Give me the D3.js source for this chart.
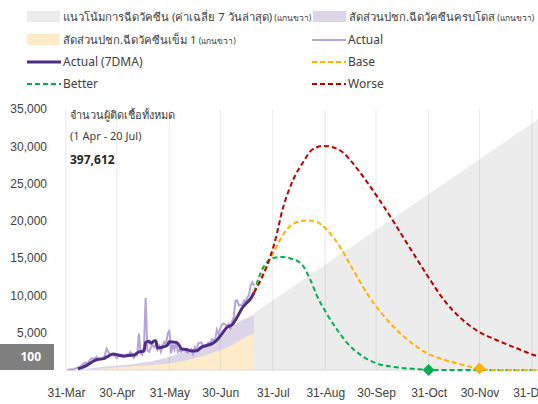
<!doctype html>
<html>
<head>
<meta charset="utf-8">
<script src="https://d3js.org/d3.v7.min.js"></script>
<style>
    body { margin: 0; background: #fff; }
    svg { display: block; font-family: "Segoe UI", "Noto Sans", "Open Sans", sans-serif; }
    text { fill: #404040; }
    .axis .domain, .axis line { display: none; }
</style>
</head>
<body>
<div id="chart"></div>
<script>

    // daily cases from 1 Apr (one value per day)
    var dailyStart = "2021-04-01";
    var actualDaily = [
        26, 84, 96, 84, 194, 250, 334, 405, 559, 789, 967, 985, 965, 1335, 1543, 1582, 1547, 1767, 1390, 1443,
        1458, 1470, 2070, 2839, 2438, 2048, 2179, 2012, 1871, 1583,
        1891, 1940, 2041, 1763, 1911, 2112, 2044, 2419, 2101, 1630, 1919, 1983, 4887, 2256, 2052, 3095, 9635, 2632,
        2438, 2978, 3394, 3052, 3382, 2713, 3226, 2455, 3323, 3759, 3440, 4800, 5400,
        2230, 3440, 2742, 3886, 2419, 2671, 2419, 2662, 2680, 2419, 2290, 2644, 2804, 2129, 3049, 2624, 3564, 3667,
        3682, 3129, 3175, 3174, 3644, 3644, 4108, 3995, 3995, 5406, 4786, 5533,
        6087, 6230, 6087, 5916, 6166, 5420, 6519, 7058, 9276, 9326, 8656, 8685, 8685, 9317, 9186, 9692, 10082, 11397,
        11784, 11305
    ];

    // 7 day average
    var actual7dma = [
        ["2021-04-07", 153], ["2021-04-10", 374], ["2021-04-13", 715], ["2021-04-16", 1167], ["2021-04-19", 1447],
        ["2021-04-22", 1522], ["2021-04-25", 1873], ["2021-04-28", 2151], ["2021-05-01", 2003], ["2021-05-04", 1872],
        ["2021-05-07", 1957], ["2021-05-10", 1997], ["2021-05-13", 2426], ["2021-05-16", 2546], ["2021-05-17", 3690],
        ["2021-05-19", 3856], ["2021-05-20", 3584], ["2021-05-22", 3889], ["2021-05-23", 3930], ["2021-05-24", 2941],
        ["2021-05-26", 3029], ["2021-05-28", 3130], ["2021-05-30", 3388], ["2021-05-31", 3772], ["2021-06-02", 3770],
        ["2021-06-04", 3705], ["2021-06-06", 3255], ["2021-06-07", 2830], ["2021-06-10", 2737], ["2021-06-13", 2560],
        ["2021-06-16", 2566], ["2021-06-19", 3074], ["2021-06-22", 3288], ["2021-06-25", 3508], ["2021-06-28", 3995],
        ["2021-07-01", 4844], ["2021-07-04", 5721], ["2021-07-07", 6061], ["2021-07-10", 7097], ["2021-07-13", 8315],
        ["2021-07-16", 9078], ["2021-07-18", 9578], ["2021-07-20", 10395]
    ];

    // scenarios
    var better = [
        ["2021-07-20", 10395], ["2021-07-24", 13100], ["2021-07-27", 14300], ["2021-08-01", 15050], ["2021-08-06", 15150],
        ["2021-08-10", 15000], ["2021-08-17", 14200], ["2021-08-22", 12200], ["2021-08-26", 10000], ["2021-09-01", 7500],
        ["2021-09-07", 5400], ["2021-09-13", 3600], ["2021-09-21", 2000], ["2021-09-30", 900], ["2021-10-12", 360],
        ["2021-10-26", 90], ["2021-10-31", 0], ["2022-01-05", 0]
    ];
    var base = [
        ["2021-07-20", 10395], ["2021-07-26", 13300], ["2021-08-01", 16000], ["2021-08-06", 18100], ["2021-08-12", 19600],
        ["2021-08-20", 20050], ["2021-08-24", 20000], ["2021-09-01", 18800], ["2021-09-09", 16400], ["2021-09-16", 13600],
        ["2021-09-26", 9800], ["2021-10-04", 7400], ["2021-10-12", 5400], ["2021-10-20", 3800], ["2021-10-30", 2250],
        ["2021-11-11", 1250], ["2021-11-23", 540], ["2021-11-30", 120], ["2021-12-10", 0], ["2022-01-05", 0]
    ];
    var worse = [
        ["2021-07-20", 10395], ["2021-07-27", 13640], ["2021-08-01", 16990], ["2021-08-06", 21700], ["2021-08-12", 25480],
        ["2021-08-18", 27900], ["2021-08-23", 29500], ["2021-08-30", 30050], ["2021-09-04", 29900], ["2021-09-11", 29060],
        ["2021-09-16", 27800], ["2021-09-25", 25100], ["2021-10-02", 22800], ["2021-10-10", 20000], ["2021-10-16", 17800],
        ["2021-10-24", 14900], ["2021-10-31", 12400], ["2021-11-09", 9390], ["2021-11-19", 6930], ["2021-11-28", 5360],
        ["2021-12-10", 4020], ["2021-12-22", 2910], ["2022-01-01", 2010], ["2022-01-05", 1750]
    ];
    // points where the scenario reaches ~zero
    var endMarks = [["2021-10-31", 0, "better"], ["2021-11-30", 200, "base"]];

    // vaccination, % of population (right axis, not drawn)
    var doseFull = [
        ["2021-04-01", 0], ["2021-04-15", 0.7], ["2021-04-25", 1.4], ["2021-05-10", 2.3], ["2021-05-25", 4.0],
        ["2021-06-05", 6.0], ["2021-06-20", 9.5], ["2021-07-01", 13.5], ["2021-07-10", 18.0], ["2021-07-19", 20.8],
        ["2021-07-20", 21.0]
    ];
    var doseFirst = [
        ["2021-04-01", 0], ["2021-04-20", 0.5], ["2021-05-10", 1.5], ["2021-05-31", 2.5], ["2021-06-15", 4.5],
        ["2021-06-25", 6.4], ["2021-07-05", 8.9], ["2021-07-12", 11.5], ["2021-07-19", 13.8], ["2021-07-20", 14.0]
    ];
    var vaccTrend = [["2021-07-20", 21.8], ["2022-01-05", 96.7]];

    var xTicks = ["2021-03-31", "2021-04-30", "2021-05-31", "2021-06-30", "2021-07-31", "2021-08-31",
        "2021-09-30", "2021-10-31", "2021-11-30", "2021-12-31"];
    var yTicks = [5000, 10000, 15000, 20000, 25000, 30000, 35000];

    var parse = d3.timeParse("%Y-%m-%d");

    var margin = {top: 109, right: 6, bottom: 34, left: 66},
        width = 538 - margin.left - margin.right,
        height = 404 - margin.top - margin.bottom;

    var svgRoot = d3.select("#chart")
        .append("svg")
        .attr("width", 538)
        .attr("height", 404);

    var svg = svgRoot.append("g")
        .attr("transform", "translate(" + margin.left + "," + margin.top + ")");

    var x = d3.scaleTime()
        .domain([parse("2021-03-31"), parse("2021-12-31")])
        .range([0, width]);
    var y = d3.scaleLinear().domain([0, 35000]).range([height, 0]);
    var yRight = d3.scaleLinear().domain([0, 100]).range([height, 0]);

    function pts(arr) {
        return arr.map(function(d) { return {date: parse(d[0]), v: d[1]}; });
    }

    // vaccination areas
    var vArea = d3.area()
        .x(function(d) { return x(d.date); })
        .y0(height)
        .y1(function(d) { return yRight(d.v); });

    svg.append("path").datum(pts(vaccTrend)).attr("d", vArea).attr("fill", "#ececec");
    svg.append("path").datum(pts(doseFull)).attr("d", vArea.curve(d3.curveMonotoneX)).attr("fill", "#dcd5e8");
    svg.append("path").datum(pts(doseFirst)).attr("d", vArea.curve(d3.curveMonotoneX)).attr("fill", "#fdebc9");

    // vertical grid
    svg.selectAll(".grid")
        .data(xTicks)
        .enter().append("line")
        .attr("class", "grid")
        .attr("x1", function(d) { return x(parse(d)); })
        .attr("x2", function(d) { return x(parse(d)); })
        .attr("y1", 0)
        .attr("y2", height)
        .attr("stroke", "#000")
        .attr("stroke-opacity", 0.08);

    svg.append("line")
        .attr("x1", 0).attr("x2", width + margin.right)
        .attr("y1", y(0)).attr("y2", y(0))
        .attr("stroke", "#d9d9d9");

    // axes
    svg.append("g")
        .attr("class", "axis")
        .attr("transform", "translate(0," + height + ")")
        .call(d3.axisBottom(x)
            .tickValues(xTicks.map(parse))
            .tickFormat(d3.timeFormat("%d-%b"))
            .tickSize(0)
            .tickPadding(18))
        .selectAll("text")
        .attr("font-size", 12)
        .style("fill", "#404040");

    svg.append("g")
        .attr("class", "axis")
        .call(d3.axisLeft(y)
            .tickValues(yTicks)
            .tickFormat(d3.format(","))
            .tickSize(0)
            .tickPadding(19))
        .selectAll("text")
        .attr("font-size", 12)
        .style("fill", "#404040");

    // lines
    var dailyPts = actualDaily.map(function(v, i) {
        return {date: d3.timeDay.offset(parse(dailyStart), i), v: v};
    });
    var line = d3.line()
        .x(function(d) { return x(d.date); })
        .y(function(d) { return y(d.v); });

    svg.append("path").datum(dailyPts)
        .attr("d", line)
        .attr("fill", "none")
        .attr("stroke", "#b6a3da")
        .attr("stroke-width", 2);

    svg.append("path").datum(pts(actual7dma))
        .attr("d", line.curve(d3.curveMonotoneX))
        .attr("fill", "none")
        .attr("stroke", "#4e2d87")
        .attr("stroke-width", 3);

    var scen = [[better, "#00b050"], [base, "#ffb000"], [worse, "#c00000"]];
    scen.forEach(function(s) {
        svg.append("path").datum(pts(s[0]))
            .attr("d", line.curve(d3.curveMonotoneX))
            .attr("fill", "none")
            .attr("stroke", s[1])
            .attr("stroke-width", 2)
            .attr("stroke-dasharray", "5,3");
    });

    var markColor = {better: "#00b050", base: "#ffb000"};
    svg.selectAll(".mark")
        .data(endMarks)
        .enter().append("path")
        .attr("class", "mark")
        .attr("d", "M0,-6L6,0L0,6L-6,0Z")
        .attr("transform", function(d) { return "translate(" + x(parse(d[0])) + "," + y(d[1]) + ")"; })
        .attr("fill", function(d) { return markColor[d[2]]; });

    // grey "100" label over the zero tick
    svg.append("rect")
        .attr("x", -margin.left).attr("y", height - 26)
        .attr("width", 54).attr("height", 26)
        .attr("fill", "#7f7f7f");
    svg.append("text")
        .attr("x", -25).attr("y", height - 13)
        .attr("dy", "0.35em")
        .attr("text-anchor", "end")
        .attr("font-size", 12)
        .attr("font-weight", "bold")
        .style("fill", "#fff")
        .text("100");

    // note at top left
    var note = svg.append("g").attr("transform", "translate(4,0)");
    note.append("text").attr("y", 10).attr("font-size", 11).text("จำนวนผู้ติดเชื้อทั้งหมด");
    note.append("text").attr("y", 31).attr("font-size", 11).text("(1 Apr - 20 Jul)");
    note.append("text").attr("y", 55).attr("font-size", 12).attr("font-weight", "bold")
        .style("fill", "#262626").text("397,612");

    // legend
    var legend = svgRoot.append("g").attr("font-size", 12);

    function legendItem(lx, ly, kind, color, label, small) {
        if (kind == "rect") {
            legend.append("rect").attr("x", lx).attr("y", ly - 6).attr("width", 33).attr("height", 11).attr("fill", color);
        } else {
            legend.append("line").attr("x1", lx).attr("x2", lx + 34).attr("y1", ly).attr("y2", ly)
                .attr("stroke", color)
                .attr("stroke-width", kind == "thick" ? 3 : 2)
                .attr("stroke-dasharray", kind == "dash" ? "5,3" : null);
        }
        var t = legend.append("text").attr("x", lx + 36).attr("y", ly).attr("dy", "0.35em").text(label);
        // thai labels run a bit wide in this font
        if (small) {
            t.attr("font-size", 11.3);
            t.append("tspan").attr("font-size", 8.5).text(" " + small);
        }
    }

    legendItem(27, 17, "rect", "#ececec", "แนวโน้มการฉีดวัคซีน (ค่าเฉลี่ย 7 วันล่าสุด)", "(แกนขวา)");
    legendItem(313, 17, "rect", "#dcd5e8", "สัดส่วนปชก.ฉีดวัคซีนครบโดส", "(แกนขวา)");
    legendItem(27, 40, "rect", "#fdebc9", "สัดส่วนปชก.ฉีดวัคซีนเข็ม 1", "(แกนขวา)");
    legendItem(312, 40, "thin", "#b6a3da", "Actual");
    legendItem(27, 62, "thick", "#4e2d87", "Actual (7DMA)");
    legendItem(312, 62, "dash", "#ffb000", "Base");
    legendItem(27, 84, "dash", "#00b050", "Better");
    legendItem(312, 84, "dash", "#c00000", "Worse");

</script>
</body>
</html>
